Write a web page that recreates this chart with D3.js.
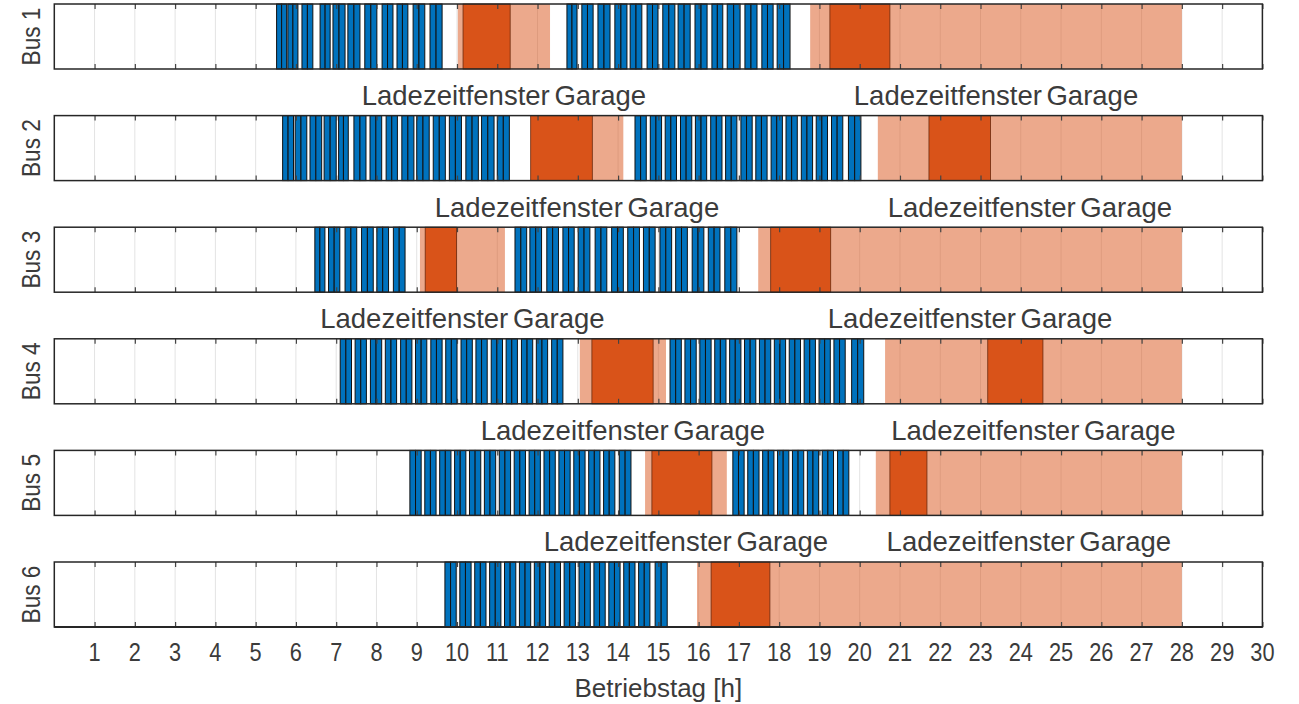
<!DOCTYPE html>
<html><head><meta charset="utf-8">
<script src="https://cdn.jsdelivr.net/npm/d3@7"></script>
<style>
body{margin:0;background:#fff}
svg{display:block}
text{font-family:"Liberation Sans",Arial,sans-serif;fill:#3b3b3b}
</style>
</head><body>
<svg id="chart" width="1299" height="704"></svg>
<script>
// Buses in the schedule
const buses = ["Bus 1", "Bus 2", "Bus 3", "Bus 4", "Bus 5", "Bus 6"];

// Hour ticks along the operating day
const hourTicks = [1,2,3,4,5,6,7,8,9,10,11,12,13,14,15,16,17,18,19,20,21,22,23,24,25,26,27,28,29,30];

// Round trips (outbound + return) per bus, [start, end] in hours
const tripsBus1 = [[5.52,5.77],[5.80,6.05],[6.15,6.42],[6.60,6.85],[6.92,7.22],[7.29,7.59],[7.71,8.01],[8.14,8.41],[8.51,8.78],[8.91,9.20],[9.33,9.63],
  [12.73,12.98],[13.10,13.38],[13.50,13.80],[13.92,14.22],[14.30,14.59],[14.72,14.99],[15.11,15.41],[15.49,15.79],[15.91,16.21],[16.33,16.60],[16.71,17.03],[17.15,17.45],[17.57,17.85],[17.95,18.27]];
const tripsBus2 = [[5.67,5.94],[5.98,6.27],[6.35,6.64],[6.70,7.00],[7.06,7.30],[7.44,7.74],[7.84,8.13],[8.24,8.52],[8.63,8.93],[9.00,9.31],[9.41,9.71],[9.81,10.11],[10.22,10.53],[10.61,10.92],[11.00,11.30],
  [14.42,14.70],[14.80,15.08],[15.17,15.45],[15.55,15.83],[15.92,16.20],[16.30,16.58],[16.67,16.95],[17.05,17.33],[17.42,17.70],[17.80,18.08],[18.17,18.45],[18.55,18.83],[18.92,19.20],[19.30,19.58],[19.72,20.03]];
const tripsBus3 = [[6.47,6.72],[6.81,7.09],[7.22,7.51],[7.63,7.92],[8.01,8.30],[8.42,8.71],
  [11.44,11.73],[11.81,12.10],[12.23,12.52],[12.63,12.91],[13.01,13.30],[13.43,13.72],[13.84,14.13],[14.24,14.53],[14.63,14.92],[15.04,15.33],[15.43,15.72],[15.84,16.13],[16.24,16.53],[16.65,16.95]];
const tripsBus4 = [[7.10,7.38],[7.47,7.75],[7.85,8.13],[8.22,8.50],[8.60,8.88],[8.97,9.25],[9.35,9.63],[9.72,10.00],[10.10,10.38],[10.47,10.75],[10.85,11.13],[11.22,11.50],[11.60,11.88],[11.97,12.25],[12.35,12.63],
  [15.29,15.57],[15.66,15.94],[16.03,16.31],[16.40,16.68],[16.77,17.05],[17.14,17.42],[17.51,17.79],[17.88,18.16],[18.25,18.53],[18.62,18.90],[18.99,19.27],[19.36,19.64],[19.80,20.10]];
const tripsBus5 = [[8.83,9.11],[9.20,9.48],[9.57,9.85],[9.94,10.22],[10.31,10.59],[10.68,10.96],[11.05,11.33],[11.42,11.70],[11.79,12.07],[12.16,12.44],[12.53,12.81],[12.90,13.18],[13.27,13.55],[13.64,13.92],[14.03,14.32],
  [16.85,17.13],[17.22,17.50],[17.59,17.87],[17.96,18.24],[18.33,18.61],[18.70,18.98],[19.07,19.35],[19.45,19.73]];
const tripsBus6 = [[9.70,9.98],[10.07,10.35],[10.44,10.72],[10.81,11.09],[11.18,11.46],[11.55,11.83],[11.92,12.20],[12.29,12.57],[12.66,12.94],[13.03,13.31],[13.40,13.68],[13.77,14.05],[14.14,14.42],[14.51,14.79],[14.92,15.22]];
const trips = [tripsBus1, tripsBus2, tripsBus3, tripsBus4, tripsBus5, tripsBus6];

// Charging windows in the garage, [start, end] in hours
const windowsBus1 = [[10.02,12.31],[18.77,28]];
const windowsBus2 = [[11.83,14.13],[20.45,28]];
const windowsBus3 = [[9.08,11.19],[17.48,28]];
const windowsBus4 = [[13.05,15.19],[20.63,28]];
const windowsBus5 = [[14.67,16.70],[20.40,28]];
const windowsBus6 = [[15.96,28]];
const chargeWindows = [windowsBus1, windowsBus2, windowsBus3, windowsBus4, windowsBus5, windowsBus6];

// Actual charging periods, [start, end] in hours
const chargingBus1 = [[10.15,11.32],[19.26,20.75]];
const chargingBus2 = [[11.83,13.36],[21.72,23.25]];
const chargingBus3 = [[9.21,9.99],[17.79,19.28]];
const chargingBus4 = [[13.35,14.87],[23.18,24.55]];
const chargingBus5 = [[14.84,16.33],[20.75,21.67]];
const chargingBus6 = [[16.31,17.77]];
const charging = [chargingBus1, chargingBus2, chargingBus3, chargingBus4, chargingBus5, chargingBus6];

const windowLabel = "Ladezeitfenster Garage";
const xLabel = "Betriebstag [h]";

const svg = d3.select("#chart");
const x = d3.scaleLinear().domain([0, 30]).range([54.3, 1262.4]);
const y = d3.scaleBand().domain(buses).range([4, 627]).paddingInner(0.4176).paddingOuter(0);
const bh = y.bandwidth();
const blue = "#0072BD", orange = "#D95319", axisCol = "#262626";

buses.forEach((bus, i) => {
  const g = svg.append("g").attr("transform", `translate(0,${y(bus)})`);

  // background grid
  g.selectAll("line.grid").data(hourTicks).join("line")
    .attr("x1", d => x(d)).attr("x2", d => x(d))
    .attr("y1", 0).attr("y2", bh)
    .attr("stroke", "#e3e3e3").attr("stroke-width", 1);

  // charging windows (translucent)
  g.selectAll("rect.win").data(chargeWindows[i]).join("rect")
    .attr("x", d => x(d[0])).attr("width", d => x(d[1]) - x(d[0]))
    .attr("y", 0).attr("height", bh)
    .attr("fill", orange).attr("fill-opacity", 0.5);

  // charging periods
  g.selectAll("rect.chg").data(charging[i]).join("rect")
    .attr("x", d => x(d[0])).attr("width", d => x(d[1]) - x(d[0]))
    .attr("y", 0).attr("height", bh)
    .attr("fill", orange).attr("stroke", "#6b2a0e").attr("stroke-width", 0.8);

  // trips: each round trip drawn as outbound and return legs
  const legs = [];
  trips[i].forEach(([s, e]) => {
    const m = (s + e) / 2;
    legs.push([s, m], [m, e]);
  });
  g.selectAll("rect.trip").data(legs).join("rect")
    .attr("x", d => x(d[0])).attr("width", d => x(d[1]) - x(d[0]))
    .attr("y", 0).attr("height", bh)
    .attr("fill", blue).attr("stroke", "#111").attr("stroke-width", 1);

  // inward ticks, top and bottom
  const topAxis = d3.axisBottom(x).tickValues(hourTicks).tickSize(5).tickFormat("");
  const botAxis = d3.axisTop(x).tickValues(hourTicks).tickSize(5).tickFormat("");
  g.append("g").call(topAxis).call(a => a.select(".domain").remove())
    .selectAll("line").attr("stroke", "#444").attr("stroke-width", 1.2);
  g.append("g").attr("transform", `translate(0,${bh})`).call(botAxis)
    .call(a => a.select(".domain").remove())
    .selectAll("line").attr("stroke", "#444").attr("stroke-width", 1.2);

  // frame
  g.append("rect").attr("x", x(0)).attr("y", 0)
    .attr("width", x(30) - x(0)).attr("height", bh)
    .attr("fill", "none").attr("stroke", axisCol).attr("stroke-width", 1.5);

  // y label
  g.append("text")
    .attr("transform", `translate(40,${bh / 2}) rotate(-90) scale(0.87,1)`)
    .attr("text-anchor", "middle")
    .style("font-size", "26px")
    .text(bus);

  // window labels below the panel
  if (i < buses.length - 1) {
    g.selectAll("text.win").data(chargeWindows[i]).join("text")
      .attr("x", d => x((d[0] + d[1]) / 2))
      .attr("y", bh + 36)
      .attr("text-anchor", "middle")
      .style("font-size", "27.5px")
      .style("word-spacing", "-3px")
      .text(windowLabel);
  }
});

// bottom tick labels
const last = y(buses[buses.length - 1]) + bh;
const lab = svg.append("g").attr("transform", `translate(0,${last})`);
lab.selectAll("text").data(hourTicks).join("text")
  .attr("transform", d => `translate(${x(d)},34) scale(0.87,1)`)
  .attr("text-anchor", "middle")
  .style("font-size", "25px")
  .text(d => d);
svg.append("line").attr("x1", x(0)).attr("x2", x(30)).attr("y1", last).attr("y2", last)
  .attr("stroke", axisCol).attr("stroke-width", 2);

svg.append("text")
  .attr("transform", `translate(${(x(0) + x(30)) / 2},${last + 70})`)
  .attr("text-anchor", "middle")
  .style("font-size", "26px")
  .text(xLabel);
</script>
</body></html>
